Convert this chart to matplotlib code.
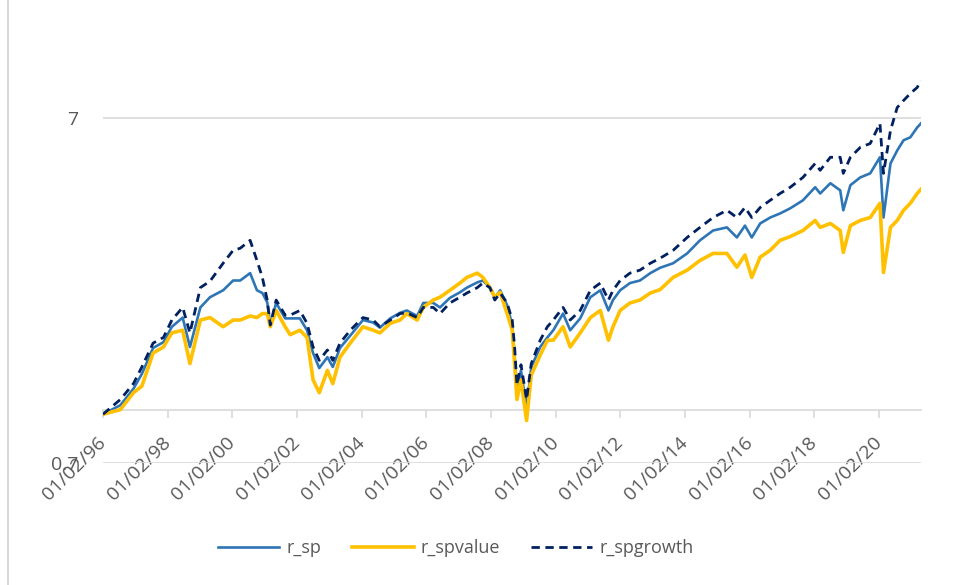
import matplotlib
matplotlib.use('Agg')
import matplotlib.pyplot as plt
from matplotlib.ticker import FixedLocator, FixedFormatter, NullLocator
from matplotlib.lines import Line2D
import pandas as pd

plt.rcParams['font.family'] = ['Open Sans', 'DejaVu Sans']

dates = [
    "1996-02-01", "1996-08-15", "1997-01-10", "1997-04-15", "1997-08-20", "1997-12-15",
    "1998-03-20", "1998-07-20", "1998-10-10", "1999-02-05", "1999-05-25", "1999-10-20",
    "2000-02-10", "2000-04-30", "2000-08-20", "2000-11-05", "2001-01-05", "2001-03-01",
    "2001-04-05", "2001-06-10", "2001-09-20", "2001-11-15", "2002-03-05", "2002-05-25",
    "2002-08-01", "2002-10-10", "2003-01-10", "2003-03-12", "2003-06-01", "2003-09-25",
    "2004-02-15", "2004-06-10", "2004-08-25", "2004-12-20", "2005-04-10", "2005-06-25",
    "2005-10-20", "2005-12-28", "2006-04-20", "2006-07-05", "2006-10-25", "2007-02-15",
    "2007-05-05", "2007-08-30", "2007-11-01", "2008-01-20", "2008-03-15", "2008-05-15",
    "2008-08-01", "2008-09-28", "2008-10-25", "2008-11-20", "2009-01-05", "2009-03-09",
    "2009-05-01", "2009-08-10", "2009-10-30", "2010-01-05", "2010-04-25", "2010-07-15",
    "2010-11-05", "2011-02-28", "2011-06-20", "2011-09-20", "2011-11-10", "2012-01-30",
    "2012-05-20", "2012-09-10", "2013-01-05", "2013-04-25", "2013-09-20", "2014-02-25",
    "2014-07-20", "2014-12-15", "2015-05-20", "2015-09-10", "2015-12-10", "2016-02-25",
    "2016-05-30", "2016-09-20", "2017-01-10", "2017-05-05", "2017-09-25", "2018-02-10",
    "2018-04-08", "2018-08-01", "2018-11-20", "2018-12-25", "2019-03-15", "2019-07-05",
    "2019-10-25", "2020-02-12", "2020-03-23", "2020-06-10", "2020-08-25", "2020-11-05",
    "2021-01-20", "2021-04-08", "2021-05-20",
]

r_spgrowth = [
    0.97, 1.07, 1.19, 1.33, 1.56, 1.62,
    1.82, 1.98, 1.67, 2.26, 2.36, 2.66,
    2.90, 2.94, 3.10, 2.71, 2.42, 2.08,
    1.76, 2.08, 1.88, 1.88, 1.94, 1.78,
    1.52, 1.39, 1.49, 1.39, 1.56, 1.70,
    1.85, 1.82, 1.74, 1.82, 1.90, 1.91,
    1.85, 1.98, 1.98, 1.90, 2.04, 2.12,
    2.18, 2.26, 2.33, 2.26, 2.08, 2.18,
    2.04, 1.82, 1.52, 1.18, 1.35, 1.07,
    1.36, 1.59, 1.74, 1.82, 1.98, 1.82,
    1.94, 2.22, 2.33, 2.08, 2.22, 2.37,
    2.49, 2.54, 2.66, 2.75, 2.90, 3.16,
    3.38, 3.61, 3.79, 3.61, 3.86, 3.61,
    3.86, 4.05, 4.24, 4.42, 4.72, 5.18,
    4.95, 5.40, 5.40, 4.85, 5.40, 5.77,
    5.92, 6.77, 4.85, 6.46, 7.53, 7.89,
    8.27, 8.61, 9.02,
]

r_sp = [
    0.97, 1.03, 1.15, 1.27, 1.51, 1.57,
    1.74, 1.85, 1.52, 1.98, 2.12, 2.22,
    2.37, 2.37, 2.49, 2.22, 2.18, 2.05,
    1.76, 2.04, 1.84, 1.84, 1.84, 1.70,
    1.46, 1.32, 1.42, 1.33, 1.51, 1.64,
    1.82, 1.79, 1.73, 1.84, 1.91, 1.94,
    1.87, 2.04, 2.04, 1.98, 2.11, 2.19,
    2.26, 2.34, 2.37, 2.26, 2.11, 2.22,
    2.01, 1.76, 1.44, 1.14, 1.30, 1.01,
    1.33, 1.52, 1.62, 1.70, 1.90, 1.70,
    1.84, 2.12, 2.22, 1.94, 2.08, 2.22,
    2.33, 2.37, 2.49, 2.58, 2.66, 2.84,
    3.10, 3.31, 3.38, 3.16, 3.42, 3.16,
    3.47, 3.61, 3.71, 3.84, 4.05, 4.42,
    4.24, 4.54, 4.33, 3.79, 4.48, 4.72,
    4.85, 5.40, 3.61, 5.18, 5.65, 6.05,
    6.17, 6.59, 6.77,
]

r_spvalue = [
    0.97, 1.00, 1.12, 1.17, 1.46, 1.52,
    1.67, 1.70, 1.36, 1.82, 1.85, 1.74,
    1.82, 1.82, 1.87, 1.85, 1.90, 1.90,
    1.74, 1.94, 1.74, 1.65, 1.70, 1.62,
    1.22, 1.12, 1.30, 1.19, 1.42, 1.56,
    1.74, 1.70, 1.67, 1.78, 1.82, 1.90,
    1.82, 1.98, 2.08, 2.12, 2.22, 2.33,
    2.42, 2.49, 2.42, 2.26, 2.12, 2.19,
    1.90, 1.70, 1.36, 1.07, 1.22, 0.93,
    1.26, 1.44, 1.59, 1.59, 1.74, 1.52,
    1.67, 1.85, 1.94, 1.59, 1.74, 1.94,
    2.04, 2.08, 2.18, 2.23, 2.42, 2.54,
    2.71, 2.84, 2.84, 2.59, 2.81, 2.42,
    2.77, 2.90, 3.10, 3.18, 3.31, 3.54,
    3.38, 3.47, 3.31, 2.86, 3.42, 3.54,
    3.61, 3.97, 2.50, 3.38, 3.54, 3.79,
    3.97, 4.24, 4.36,
]

tick_dates = ["1996-02-01", "1998-02-01", "2000-02-01", "2002-02-01", "2004-02-01",
              "2006-02-01", "2008-02-01", "2010-02-01", "2012-02-01", "2014-02-01",
              "2016-02-01", "2018-02-01", "2020-02-01"]
y_ticks = [0.7, 7]
y_labels = ["0.7", "7"]

x = pd.to_datetime(dates)
ticks = pd.to_datetime(tick_dates)
tick_labels = [t.strftime('%d/%m/%y') for t in ticks]
grey_text = '#595959'
grid_col = '#d9d9d9'

fig = plt.figure(figsize=(9.6, 5.85), dpi=100)
ax = fig.add_axes([0.1073, 0.2085, 0.852, 0.6803])

ax.plot(x, r_sp, color='#2E75B6', lw=1.9, label='r_sp', zorder=3)
ax.plot(x, r_spvalue, color='#FFC000', lw=2.6, label='r_spvalue', zorder=4)
ax.plot(x, r_spgrowth, color='#002060', lw=2.0, ls=(0, (3, 2)), label='r_spgrowth', zorder=5)

ax.set_yscale('log')
ax.set_ylim(0.7, 10)
ax.yaxis.set_major_locator(FixedLocator(y_ticks))
ax.yaxis.set_major_formatter(FixedFormatter(y_labels))
ax.yaxis.set_minor_locator(NullLocator())
ax.tick_params(axis='y', length=0, pad=18, labelsize=14, labelcolor=grey_text)
ax.grid(axis='y', color=grid_col, lw=1.2)

ax.set_xlim(pd.Timestamp("1996-02-01"), pd.Timestamp("2021-05-20"))
ax.xaxis.set_major_locator(FixedLocator(matplotlib.dates.date2num(ticks)))
ax.xaxis.set_major_formatter(FixedFormatter(tick_labels))
ax.xaxis.set_minor_locator(NullLocator())
ax.tick_params(axis='x', length=6, width=1.2, color=grid_col, pad=16,
               labelsize=14, labelcolor=grey_text, labelrotation=45)

for s in ['top', 'right', 'left']:
    ax.spines[s].set_visible(False)
ax.spines['bottom'].set_position(('data', 1))
ax.spines['bottom'].set_color(grid_col)
ax.spines['bottom'].set_linewidth(1.2)

# chart frame edge on the left
fig.add_artist(Line2D([8 / 960, 8 / 960], [0, 1], color=grid_col, lw=1.5))

fig.legend(loc='center', bbox_to_anchor=(0.475, 1 - 548 / 585), ncol=3, frameon=False,
           fontsize=13, labelcolor=grey_text, handlelength=3.4, handletextpad=0.4,
           columnspacing=1.7)

fig.canvas.draw()
for lab in ax.xaxis.get_majorticklabels():
    lab.set_horizontalalignment('right')
    lab.set_verticalalignment('center')
    lab.set_rotation_mode('anchor')

fig.savefig('out.png', dpi=100)
